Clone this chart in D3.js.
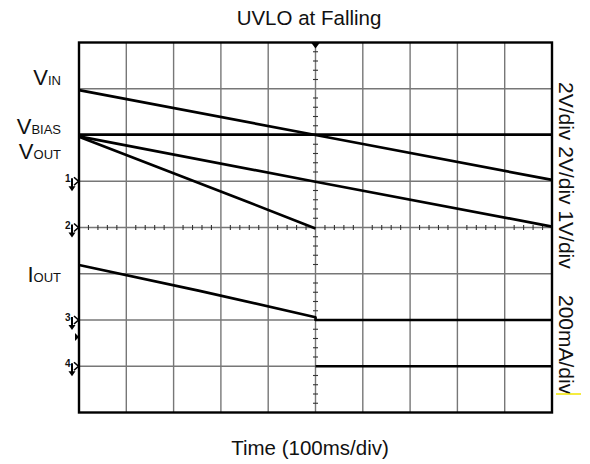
<!DOCTYPE html>
<html><head><meta charset="utf-8">
<script src="https://cdn.jsdelivr.net/npm/d3@7"></script>
<style>body{margin:0;background:#fff}svg{display:block}text{font-family:"Liberation Sans",Arial,sans-serif;fill:#111}</style>
</head><body><svg id="c" width="590" height="464"></svg>
<script>
// time axis: 10 divisions x 100 ms; vertical: divisions from screen centre (+4 top .. -4 bottom)
const timeTicks = [0,100,200,300,400,500,600,700,800,900,1000];
const divTicks = [-4,-3,-2,-1,0,1,2,3,4];
const vinT = [0, 500, 1000];       const vinDiv = [2.97, 2.0, 1.03];
const vbiasT = [0, 1000];          const vbiasDiv = [2.01, 2.01];
const rampT = [0, 500, 1000];      const rampDiv = [1.97, 0.99, 0.02];
const voutT = [0, 360, 500];       const voutDiv = [1.96, 0.54, -0.02];
const ioutT = [0, 255, 500, 500, 1000]; const ioutDiv = [-0.81, -1.37, -1.94, -2.0, -2.0];
const ch4T = [500, 1000];          const ch4Div = [-3.0, -3.0];
const chanMarkers = [{n:"1",d:1},{n:"2",d:0},{n:"3",d:-2},{n:"4",d:-3}];
const leftLabels = [{main:"V",sub:"IN",y:85},{main:"V",sub:"BIAS",y:134},{main:"V",sub:"OUT",y:159},{main:"I",sub:"OUT",y:281.5}];
const scaleLabels = [{t:"2V/div 2V/div 1V/div",y:82},{t:"200mA/div",y:295}];
const title = "UVLO at Falling", xTitle = "Time (100ms/div)";

const svg = d3.select("#c");
const L=79, R=552, T=42.5, B=412.5;
const x = d3.scaleLinear().domain([0,1000]).range([L,R]);
const y = d3.scaleLinear().domain([-4,4]).range([B,T]);

// grid
const g = svg.append("g");
g.selectAll("line.v").data(timeTicks.slice(1,-1)).join("line")
 .attr("x1",d=>x(d)).attr("x2",d=>x(d)).attr("y1",T).attr("y2",B)
 .attr("stroke","#777").attr("stroke-width",1.4);
g.selectAll("line.h").data(divTicks.slice(1,-1)).join("line")
 .attr("y1",d=>y(d)).attr("y2",d=>y(d)).attr("x1",L).attr("x2",R)
 .attr("stroke","#777").attr("stroke-width",1.4);
// minor ticks on centre lines
const minorX = d3.range(0,1001,20).filter(v=>v%100!==0);
g.selectAll("line.mx").data(minorX).join("line")
 .attr("x1",d=>x(d)).attr("x2",d=>x(d)).attr("y1",y(0)-2.5).attr("y2",y(0)+2.5)
 .attr("stroke","#333").attr("stroke-width",1.1);
const minorY = d3.range(-4,4.01,0.2).filter(v=>Math.abs(v-Math.round(v))>0.01);
g.selectAll("line.my").data(minorY).join("line")
 .attr("y1",d=>y(d)).attr("y2",d=>y(d)).attr("x1",x(500)-2.5).attr("x2",x(500)+2.5)
 .attr("stroke","#333").attr("stroke-width",1.1);

// border
svg.append("rect").attr("x",L).attr("y",T).attr("width",R-L).attr("height",B-T)
 .attr("fill","none").attr("stroke","#000").attr("stroke-width",2.4);

// trigger marker
svg.append("path").attr("d",`M${x(500)-4.5},${T} L${x(500)+4.5},${T} L${x(500)},${T+6} Z`).attr("fill","#000");

// traces
const line = d3.line().x(d=>x(d[0])).y(d=>y(d[1]));
const traces = [[vinT,vinDiv],[vbiasT,vbiasDiv],[rampT,rampDiv],[voutT,voutDiv],[ioutT,ioutDiv],[ch4T,ch4Div]];
traces.forEach(([t,v])=>{
  svg.append("path").attr("d",line(t.map((ti,i)=>[ti,v[i]])))
   .attr("fill","none").attr("stroke","#000").attr("stroke-width",2.7).attr("stroke-linejoin","round");
});

// channel markers
chanMarkers.forEach(m=>{
  const yy=y(m.d);
  svg.append("text").attr("x",70.5).attr("y",yy+1).attr("text-anchor","end")
   .attr("font-size",10).attr("font-weight","bold").text(m.n);
  svg.append("path").attr("d",`M74,${yy-4} L78.5,${yy} L74,${yy+4}`).attr("fill","none").attr("stroke","#000").attr("stroke-width",1.6);
  svg.append("path").attr("d",`M72,${yy-3} L72,${yy+6}`).attr("stroke","#000").attr("stroke-width",2);
  svg.append("path").attr("d",`M68.5,${yy+5} L75.5,${yy+5} L72,${yy+10} Z`).attr("fill","#000");
});
// trigger level marker
svg.append("path").attr("d",`M75,${y(-2.37)-4} L79,${y(-2.37)} L75,${y(-2.37)+4} Z`).attr("fill","#000");

// left labels
leftLabels.forEach(l=>{
  const t=svg.append("text").attr("x",61).attr("y",l.y).attr("text-anchor","end").attr("font-size",22);
  t.append("tspan").text(l.main);
  t.append("tspan").attr("font-size",13).text(l.sub);
});

// right scale labels
scaleLabels.forEach(s=>{
  svg.append("text").attr("transform",`translate(559,${s.y}) rotate(90)`).attr("font-size",21).text(s.t);
});
svg.append("line").attr("x1",556).attr("x2",581).attr("y1",394).attr("y2",394).attr("stroke","#f2e600").attr("stroke-width",1.5);

// titles
svg.append("text").attr("x",309).attr("y",25).attr("text-anchor","middle").attr("font-size",20.5).text(title);
svg.append("text").attr("x",310).attr("y",455).attr("text-anchor","middle").attr("font-size",20.5).text(xTitle);
</script></body></html>
